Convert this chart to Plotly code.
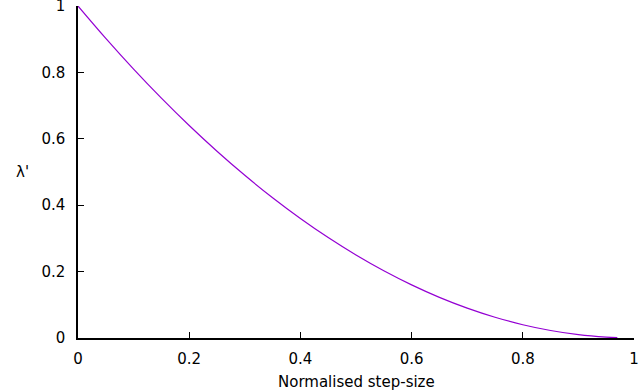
import plotly.graph_objects as go

# values
step_size = [0, 0.05, 0.1, 0.15, 0.2, 0.25, 0.3, 0.35, 0.4, 0.45, 0.5,
             0.55, 0.6, 0.65, 0.7, 0.75, 0.8, 0.85, 0.9, 0.95, 0.97]
lam = [1.0, 0.9025, 0.81, 0.7225, 0.64, 0.5625, 0.49, 0.4225, 0.36, 0.3025, 0.25,
       0.2025, 0.16, 0.1225, 0.09, 0.0625, 0.04, 0.0225, 0.01, 0.0025, 0.0009]
xticks = [0, 0.2, 0.4, 0.6, 0.8, 1]
yticks = [0, 0.2, 0.4, 0.6, 0.8, 1]
ticklabels = ['0', '0.2', '0.4', '0.6', '0.8', '1']

fig = go.Figure()
fig.add_trace(go.Scatter(x=step_size, y=lam, mode='lines', line_shape='spline',
                         line=dict(color='#9400d3', width=1.2), showlegend=False))

axis_style = dict(showgrid=False, zeroline=False, showline=True, linecolor='black',
                  linewidth=1.5, ticks='inside', ticklen=6, tickcolor='black',
                  tickfont=dict(size=15, color='black'), automargin=False,
                  ticklabeloverflow='allow')

fig.update_xaxes(range=[0, 1], tickvals=xticks, ticktext=ticklabels,
                 ticklabelstandoff=6, **axis_style)
fig.update_yaxes(range=[0, 1], tickvals=yticks, ticktext=ticklabels,
                 ticklabelstandoff=8, **axis_style)

fig.add_annotation(text="λ'", xref='paper', yref='paper', x=-0.115, y=0.5,
                   showarrow=False, font=dict(size=15, color='black'))
fig.add_annotation(text='Normalised step-size', xref='paper', yref='paper', x=0.5, y=-0.133,
                   yanchor='middle', showarrow=False, font=dict(size=15, color='black'))

fig.update_layout(width=640, height=391, plot_bgcolor='white', paper_bgcolor='white',
                  font=dict(family='DejaVu Sans'),
                  margin=dict(l=78, r=6, t=6, b=53))

# the page body has a default 8px margin; drop it so the figure sits at the corner
fig.write_html("out.html", config={'displayModeBar': False},
               post_script="document.body.style.margin='0';")
